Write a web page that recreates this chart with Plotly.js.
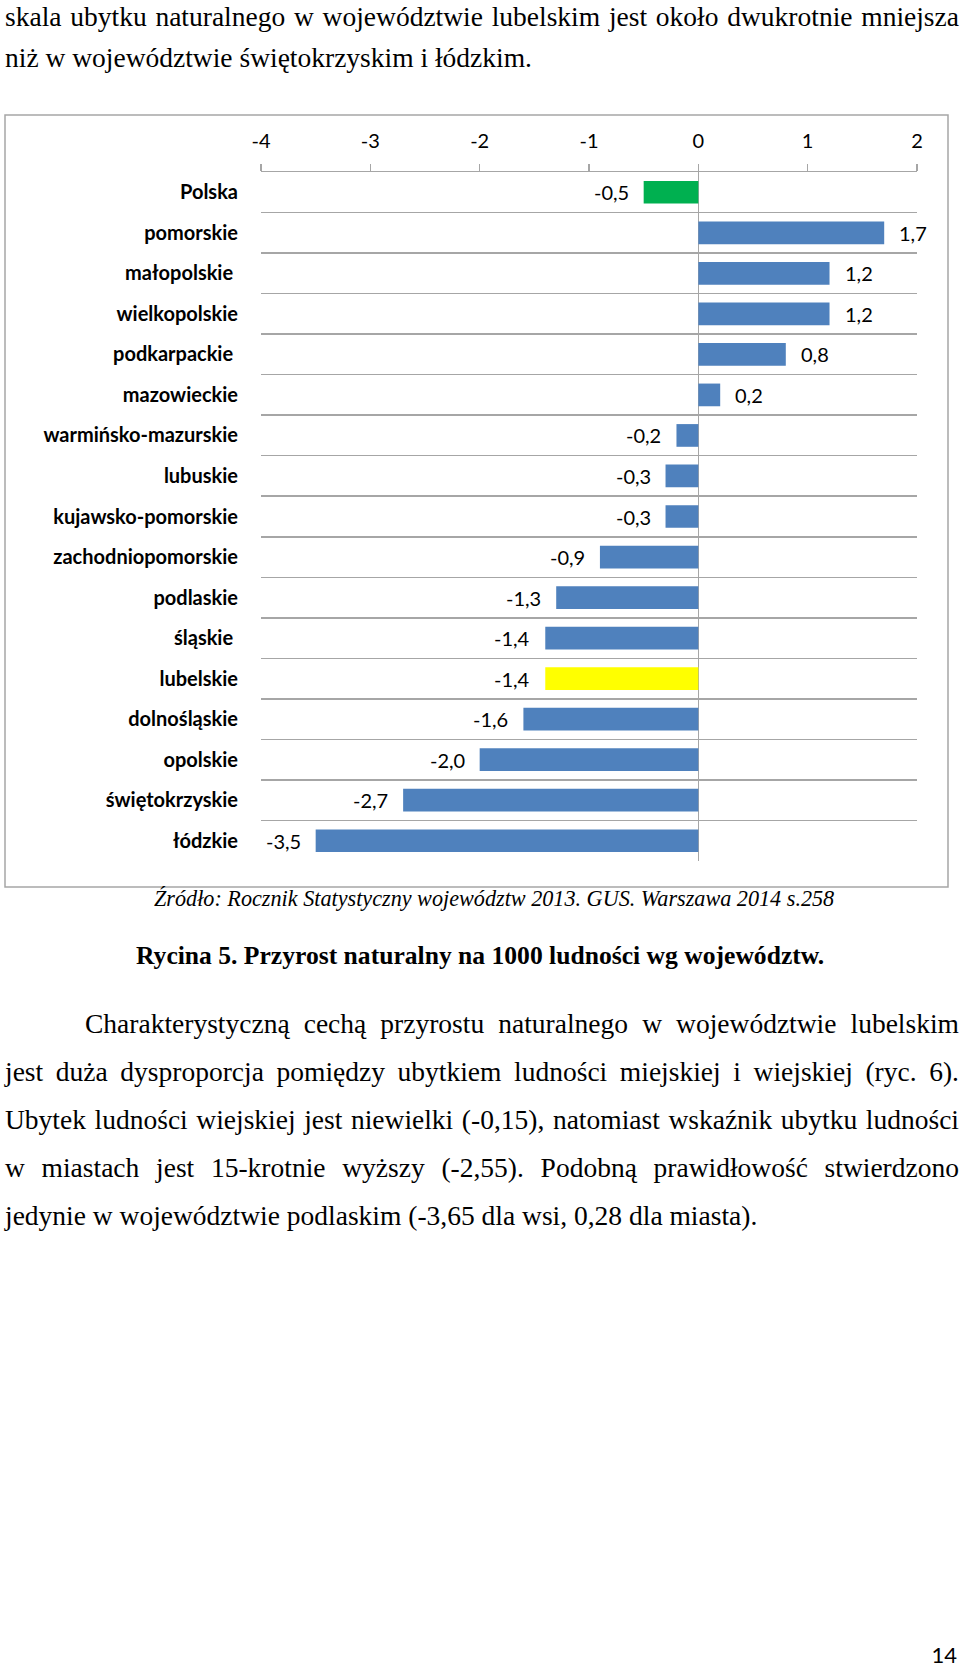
<!DOCTYPE html>
<html>
<head>
<meta charset="utf-8">
<script src="https://cdn.plot.ly/plotly-3.0.1.min.js"></script>
<style>
  html, body { margin:0; padding:0; background:#fff; }
  body { width:960px; height:1670px; position:relative; overflow:hidden; }
  .t { position:absolute; left:5px; width:954px; font-family:"Liberation Serif","Times New Roman",serif; font-size:27.5px; line-height:48px; color:#000; white-space:nowrap; }
  .j { text-align:justify; text-align-last:justify; white-space:normal; }
  #chart { position:absolute; left:0; top:0; width:960px; height:900px; }
</style>
</head>
<body>
<div class="t j" style="top:1px;line-height:31px">skala ubytku naturalnego w województwie lubelskim jest około dwukrotnie mniejsza</div>
<div class="t" style="top:34px">niż w województwie świętokrzyskim i łódzkim.</div>

<div id="chart"></div>

<div class="t" style="top:875px;left:154px;width:auto;font-size:22.2px;font-style:italic">Źródło: Rocznik Statystyczny województw 2013. GUS. Warszawa 2014 s.258</div>
<div class="t" style="top:932px;left:136px;width:auto;font-size:25.6px;font-weight:bold">Rycina 5. Przyrost naturalny na 1000 ludności wg województw.</div>

<div class="t j" style="top:1000px;left:85px;width:874px">Charakterystyczną cechą przyrostu naturalnego w województwie lubelskim</div>
<div class="t j" style="top:1048px">jest duża dysproporcja pomiędzy ubytkiem ludności miejskiej i wiejskiej (ryc. 6).</div>
<div class="t j" style="top:1096px">Ubytek ludności wiejskiej jest niewielki (-0,15), natomiast wskaźnik ubytku ludności</div>
<div class="t j" style="top:1144px">w miastach jest 15-krotnie wyższy (-2,55). Podobną prawidłowość stwierdzono</div>
<div class="t" style="top:1192px">jedynie w województwie podlaskim (-3,65 dla wsi, 0,28 dla miasta).</div>

<div style="position:absolute;top:1643px;right:3px;font-family:Lato,sans-serif;font-size:22px;line-height:24px;color:#000">14</div>

<script>
// ---- data ----
var categories = ["Polska", "pomorskie", "małopolskie\u00a0", "wielkopolskie", "podkarpackie\u00a0", "mazowieckie",
  "warmińsko-mazurskie", "lubuskie", "kujawsko-pomorskie", "zachodniopomorskie", "podlaskie", "śląskie\u00a0",
  "lubelskie", "dolnośląskie", "opolskie", "świętokrzyskie", "łódzkie"];
var values = [-0.5, 1.7, 1.2, 1.2, 0.8, 0.2, -0.2, -0.3, -0.3, -0.9, -1.3, -1.4, -1.4, -1.6, -2.0, -2.7, -3.5];
var valueLabels = ["-0,5", "1,7", "1,2", "1,2", "0,8", "0,2", "-0,2", "-0,3", "-0,3", "-0,9", "-1,3", "-1,4", "-1,4", "-1,6", "-2,0", "-2,7", "-3,5"];
var tickValues = [-4, -3, -2, -1, 0, 1, 2];
var tickLabels = ["-4", "-3", "-2", "-1", "0", "1", "2"];

// ---- styles ----
var BLUE = "#4F81BD", GREEN = "#00B050", YELLOW = "#FFFF00", GRID = "#A6A6A6";
var barColors = categories.map(function (c) {
  if (c === "Polska") return GREEN;
  if (c === "lubelskie") return YELLOW;
  return BLUE;
});

var trace = {
  type: "bar",
  orientation: "h",
  x: values,
  y: categories,
  marker: { color: barColors, line: { width: 0 } },
  hoverinfo: "none"
};

var annotations = values.map(function (v, i) {
  return {
    x: v, y: categories[i], xref: "x", yref: "y",
    text: valueLabels[i], showarrow: false,
    xanchor: v < 0 ? "right" : "left",
    xshift: v < 0 ? -13 : 13,
    font: { family: "Lato, sans-serif", size: 20, color: "#000" }
  };
});

// plot area: x 261..917, y 172..861 inside a 960x900 div
var L = 261, R = 917, T = 172, B = 861, W = 960, H = 900;
var pw = R - L, ph = B - T;
function px(x) { return (x - L) / pw; }
function py(y) { return (B - y) / ph; }

var layout = {
  width: W, height: H,
  margin: { l: L, r: W - R, t: T, b: H - B, pad: 0 },
  paper_bgcolor: "rgba(0,0,0,0)",
  plot_bgcolor: "rgba(0,0,0,0)",
  showlegend: false,
  bargap: 0.44,
  font: { family: "Lato, sans-serif", size: 20, color: "#000" },
  xaxis: {
    side: "top",
    range: [-4, 2],
    tickvals: tickValues,
    ticktext: tickLabels,
    showgrid: false,
    zeroline: true, zerolinecolor: GRID, zerolinewidth: 1.5,
    showline: true, linecolor: GRID, linewidth: 1.5,
    ticks: "outside", ticklen: 7, tickwidth: 1.5, tickcolor: GRID,
    ticklabelstandoff: 8,
    tickfont: { family: "Lato, sans-serif", size: 20, color: "#000" },
    fixedrange: true
  },
  yaxis: {
    type: "category",
    autorange: "reversed",
    tickson: "boundaries",
    showgrid: true, gridcolor: GRID, gridwidth: 1.5,
    ticks: "",
    showline: false,
    zeroline: false,
    ticklabelstandoff: 22,
    tickfont: { family: "Lato, sans-serif", size: 20, color: "#000", weight: "bold" },
    fixedrange: true
  },
  annotations: annotations,
  shapes: [{
    type: "rect", xref: "paper", yref: "paper",
    x0: px(5), x1: px(948), y0: py(887), y1: py(115),
    line: { color: GRID, width: 1.5 }, fillcolor: "rgba(0,0,0,0)", layer: "below"
  }]
};

Plotly.newPlot("chart", [trace], layout, { displayModeBar: false, staticPlot: true });
</script>
</body>
</html>
